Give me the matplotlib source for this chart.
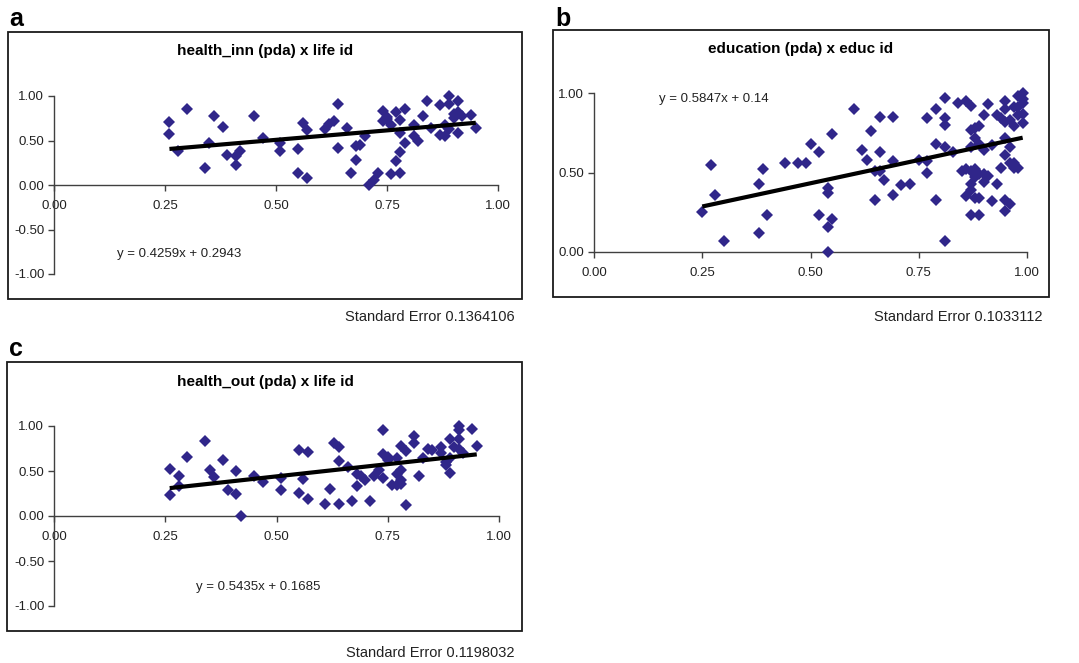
import numpy as np
import matplotlib
matplotlib.use("Agg")
import matplotlib.pyplot as plt
import matplotlib.patches as patches

plt.rcParams['font.family'] = ['Liberation Sans', 'DejaVu Sans']
plt.rcParams['axes.unicode_minus'] = False

W, H = 1079, 663

# panel a: health_inn (pda) x life id
a_x = [0.26, 0.26, 0.28, 0.30, 0.34, 0.35, 0.36, 0.38, 0.39, 0.41, 0.41, 0.42, 0.45, 0.47,
       0.51, 0.51, 0.55, 0.55, 0.56, 0.57, 0.57, 0.61, 0.62, 0.63, 0.64, 0.64, 0.66, 0.67,
       0.68, 0.68, 0.69, 0.70, 0.71, 0.72, 0.73, 0.74, 0.74, 0.75, 0.76, 0.76, 0.77, 0.77,
       0.78, 0.78, 0.78, 0.78, 0.79, 0.79, 0.81, 0.81, 0.82, 0.83, 0.84, 0.85, 0.87, 0.87,
       0.88, 0.88, 0.89, 0.89, 0.89, 0.90, 0.90, 0.91, 0.91, 0.91, 0.92, 0.94, 0.95, 0.75]
a_y = [0.71, 0.57, 0.38, 0.85, 0.19, 0.47, 0.78, 0.65, 0.34, 0.22, 0.33, 0.38, 0.77, 0.53,
       0.38, 0.47, 0.41, 0.14, 0.70, 0.08, 0.62, 0.63, 0.68, 0.72, 0.91, 0.42, 0.64, 0.13,
       0.28, 0.44, 0.45, 0.55, 0.00, 0.06, 0.14, 0.83, 0.72, 0.76, 0.12, 0.67, 0.82, 0.27,
       0.37, 0.13, 0.58, 0.73, 0.85, 0.47, 0.67, 0.55, 0.50, 0.78, 0.94, 0.64, 0.90, 0.56,
       0.55, 0.67, 1.00, 0.91, 0.63, 0.80, 0.75, 0.94, 0.82, 0.58, 0.78, 0.79, 0.64, 0.74]

# panel b: education (pda) x educ id
b_x = [0.25, 0.27, 0.28, 0.30, 0.38, 0.38, 0.39, 0.40, 0.44, 0.47, 0.49, 0.50, 0.52, 0.52,
       0.54, 0.54, 0.54, 0.54, 0.55, 0.55, 0.60, 0.62, 0.63, 0.64, 0.65, 0.65, 0.66, 0.66,
       0.66, 0.67, 0.69, 0.69, 0.69, 0.71, 0.73, 0.75, 0.77, 0.77, 0.77, 0.79, 0.79, 0.79,
       0.81, 0.81, 0.81, 0.81, 0.81, 0.83, 0.84, 0.85, 0.86, 0.86, 0.86, 0.87, 0.87, 0.87,
       0.87, 0.87, 0.87, 0.87, 0.88, 0.88, 0.88, 0.88, 0.88, 0.89, 0.89, 0.89, 0.89, 0.89,
       0.90, 0.90, 0.90, 0.90, 0.91, 0.91, 0.92, 0.92, 0.93, 0.93, 0.94, 0.94, 0.95, 0.95,
       0.95, 0.95, 0.95, 0.95, 0.95, 0.96, 0.96, 0.96, 0.96, 0.97, 0.97, 0.97, 0.98, 0.98,
       0.98, 0.99, 0.99, 0.99, 0.99, 0.99, 0.98, 0.97]
b_y = [0.25, 0.55, 0.36, 0.07, 0.43, 0.12, 0.52, 0.23, 0.56, 0.56, 0.56, 0.68, 0.63, 0.23,
       0.40, 0.37, 0.16, 0.00, 0.74, 0.21, 0.90, 0.64, 0.58, 0.76, 0.51, 0.33, 0.85, 0.63,
       0.51, 0.45, 0.85, 0.57, 0.36, 0.42, 0.43, 0.58, 0.84, 0.57, 0.50, 0.90, 0.68, 0.33,
       0.97, 0.84, 0.80, 0.66, 0.07, 0.63, 0.94, 0.51, 0.95, 0.52, 0.35, 0.92, 0.77, 0.66,
       0.51, 0.43, 0.39, 0.23, 0.72, 0.78, 0.52, 0.47, 0.34, 0.79, 0.68, 0.49, 0.34, 0.23,
       0.86, 0.64, 0.49, 0.44, 0.93, 0.48, 0.67, 0.32, 0.86, 0.43, 0.84, 0.53, 0.95, 0.90,
       0.82, 0.72, 0.61, 0.33, 0.26, 0.83, 0.66, 0.56, 0.30, 0.79, 0.91, 0.53, 0.86, 0.53,
       0.98, 1.00, 0.94, 0.87, 0.81, 0.96, 0.91, 0.56]

# panel c: health_out (pda) x life id
c_x = [0.26, 0.26, 0.28, 0.28, 0.30, 0.34, 0.35, 0.36, 0.38, 0.39, 0.41, 0.41, 0.42, 0.45,
       0.47, 0.51, 0.51, 0.55, 0.55, 0.56, 0.57, 0.57, 0.61, 0.62, 0.63, 0.64, 0.64, 0.64,
       0.66, 0.67, 0.68, 0.68, 0.69, 0.70, 0.71, 0.72, 0.73, 0.74, 0.74, 0.74, 0.75, 0.76,
       0.77, 0.77, 0.77, 0.78, 0.78, 0.78, 0.79, 0.79, 0.81, 0.81, 0.82, 0.83, 0.84, 0.85,
       0.87, 0.87, 0.88, 0.88, 0.89, 0.89, 0.89, 0.90, 0.91, 0.91, 0.91, 0.91, 0.92, 0.94,
       0.95, 0.75, 0.78]
c_y = [0.52, 0.23, 0.45, 0.33, 0.66, 0.83, 0.51, 0.43, 0.62, 0.29, 0.50, 0.24, 0.00, 0.44,
       0.38, 0.42, 0.29, 0.73, 0.26, 0.41, 0.71, 0.19, 0.13, 0.30, 0.81, 0.77, 0.61, 0.13,
       0.55, 0.17, 0.47, 0.33, 0.44, 0.40, 0.17, 0.44, 0.51, 0.96, 0.69, 0.42, 0.66, 0.34,
       0.65, 0.47, 0.35, 0.78, 0.51, 0.40, 0.12, 0.72, 0.89, 0.81, 0.45, 0.64, 0.74, 0.73,
       0.77, 0.70, 0.60, 0.57, 0.86, 0.48, 0.65, 0.77, 1.00, 0.96, 0.86, 0.75, 0.70, 0.97,
       0.78, 0.62, 0.36]

titles = ["health_inn (pda) x life id", "education (pda) x educ id", "health_out (pda) x life id"]
letters = ["a", "b", "c"]
slopes = [0.4259, 0.5847, 0.5435]
intercepts = [0.2943, 0.14, 0.1685]
eq_labels = ["y = 0.4259x + 0.2943", "y = 0.5847x + 0.14", "y = 0.5435x + 0.1685"]
std_errors = ["Standard Error 0.1364106", "Standard Error 0.1033112", "Standard Error 0.1198032"]
x_ticks = [0.0, 0.25, 0.5, 0.75, 1.0]
y_ticks_full = [-1.0, -0.5, 0.0, 0.5, 1.0]
y_ticks_pos = [0.0, 0.5, 1.0]

DOT = '#30268a'
AXC = '#404040'


def px_rect(l, t, r, b):
    return [l / W, 1 - b / H, (r - l) / W, (b - t) / H]


def fig_xy(x, y):
    return x / W, 1 - y / H


def draw_panel(fig, i, xs, ys, box, ax_px, ylim, yticks, title_xy, letter_xy, eq_xy, se_xy):
    l, t, r, b = box
    fig.patches.append(patches.Rectangle((l / W, 1 - b / H), (r - l) / W, (b - t) / H,
                                         transform=fig.transFigure, fill=False,
                                         edgecolor='#1a1a1a', linewidth=1.3))
    ax = fig.add_axes(px_rect(*ax_px))
    ax.set_xlim(0, 1)
    ax.set_ylim(*ylim)
    ax.patch.set_alpha(0)
    for s in ['top', 'right']:
        ax.spines[s].set_visible(False)
    ax.spines['bottom'].set_position(('data', 0))
    for s in ['left', 'bottom']:
        ax.spines[s].set_color(AXC)
        ax.spines[s].set_linewidth(1.0)
    ax.set_xticks(x_ticks)
    ax.set_yticks(yticks)
    ax.xaxis.set_major_formatter(matplotlib.ticker.FormatStrFormatter('%.2f'))
    ax.yaxis.set_major_formatter(matplotlib.ticker.FormatStrFormatter('%.2f'))
    ax.tick_params(axis='both', length=4, width=1.0, color=AXC, labelsize=9.5, labelcolor='#222222')
    ax.tick_params(axis='x', pad=7)
    ax.tick_params(axis='y', pad=3)

    ax.plot(xs, ys, linestyle='none', marker='D', ms=6.5, mew=0, color=DOT, clip_on=False, zorder=3)
    xl = np.array([min(xs), max(xs)])
    ax.plot(xl, slopes[i] * xl + intercepts[i], color='black', lw=3, solid_capstyle='butt', zorder=4)

    fig.text(*fig_xy(*title_xy), titles[i], ha='center', va='center', fontsize=11, fontweight='bold')
    fig.text(*fig_xy(*letter_xy), letters[i], ha='left', va='baseline', fontsize=18, fontweight='bold')
    fig.text(*fig_xy(*eq_xy), eq_labels[i], ha='left', va='center', fontsize=9.5, color='#222222')
    fig.text(*fig_xy(*se_xy), std_errors[i], ha='right', va='center', fontsize=10.5, color='#222222')
    return ax


def main():
    fig = plt.figure(figsize=(W / 100, H / 100), dpi=100)
    fig.patch.set_facecolor('white')

    draw_panel(fig, 0, a_x, a_y, (8, 32, 522, 299), (54, 96, 498, 274), (-1, 1), y_ticks_full,
               (265, 51), (9, 26), (117, 254), (515, 317))
    draw_panel(fig, 1, b_x, b_y, (553, 30, 1049, 297), (594, 93, 1027, 252), (0, 1), y_ticks_pos,
               (801, 49), (555, 26), (659, 99), (1043, 317))
    draw_panel(fig, 2, c_x, c_y, (7, 362, 522, 631), (54, 426, 499, 606), (-1, 1), y_ticks_full,
               (265, 382), (9, 356), (196, 587), (515, 653))

    fig.savefig("out.png", dpi=100)


if __name__ == "__main__":
    main()
